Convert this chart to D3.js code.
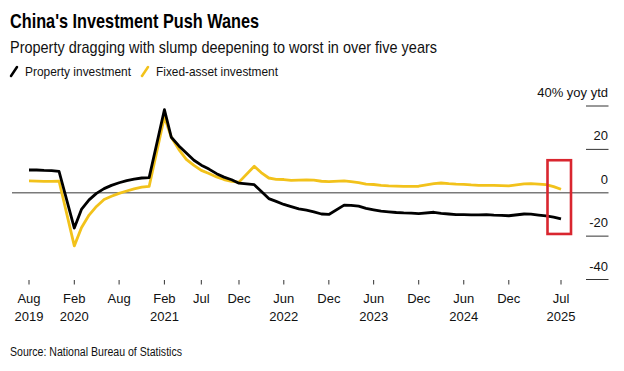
<!DOCTYPE html>
<html>
<head>
  <meta charset="utf-8">
  <script src="https://d3js.org/d3.v7.min.js"></script>
  <style>
    body { margin: 0; background: #fff; }
    svg { display: block; font-family: "Liberation Sans", Arial, sans-serif; }
  </style>
</head>
<body>
  <svg width="624" height="371"></svg>

  <script>
    // Monthly ytd readings (China reports Jan+Feb together, so no January)
    const months = [
      "2019-08", "2019-09", "2019-10", "2019-11", "2019-12",
      "2020-02", "2020-03", "2020-04", "2020-05", "2020-06", "2020-07", "2020-08", "2020-09", "2020-10", "2020-11", "2020-12",
      "2021-02", "2021-03", "2021-04", "2021-05", "2021-06", "2021-07", "2021-08", "2021-09", "2021-10", "2021-11", "2021-12",
      "2022-02", "2022-03", "2022-04", "2022-05", "2022-06", "2022-07", "2022-08", "2022-09", "2022-10", "2022-11", "2022-12",
      "2023-02", "2023-03", "2023-04", "2023-05", "2023-06", "2023-07", "2023-08", "2023-09", "2023-10", "2023-11", "2023-12",
      "2024-02", "2024-03", "2024-04", "2024-05", "2024-06", "2024-07", "2024-08", "2024-09", "2024-10", "2024-11", "2024-12",
      "2025-02", "2025-03", "2025-04", "2025-05", "2025-06", "2025-07"
    ];

    const propertyInvestment = [
      10.5, 10.5, 10.3, 10.2, 9.9,
      -16.3, -7.7, -3.3, -0.3, 1.9, 3.4, 4.6, 5.6, 6.3, 6.8, 7.0,
      38.3, 25.6, 21.6, 18.3, 15.0, 12.7, 10.9, 8.8, 7.2, 6.0, 4.4,
      3.7, 0.7, -2.7, -4.0, -5.4, -6.4, -7.4, -8.0, -8.8, -9.8, -10.0,
      -5.7, -5.8, -6.2, -7.2, -7.9, -8.5, -8.8, -9.1, -9.3, -9.4, -9.6,
      -9.0, -9.5, -9.8, -10.1, -10.1, -10.2, -10.2, -10.1, -10.3, -10.4, -10.6,
      -9.8, -9.9, -10.3, -10.7, -11.2, -12.0
    ];

    const fixedAssetInvestment = [
      5.5, 5.4, 5.2, 5.2, 5.4,
      -24.5, -16.1, -10.3, -6.3, -3.1, -1.6, -0.3, 0.8, 1.8, 2.6, 2.9,
      35.0, 25.6, 19.9, 15.4, 12.6, 10.3, 8.9, 7.3, 6.1, 5.2, 4.9,
      12.2, 9.3, 6.8, 6.2, 6.1, 5.7, 5.8, 5.9, 5.8, 5.3, 5.1,
      5.5, 5.1, 4.7, 4.0, 3.8, 3.4, 3.2, 3.1, 2.9, 2.9, 3.0,
      4.2, 4.5, 4.2, 4.0, 3.9, 3.6, 3.4, 3.4, 3.4, 3.3, 3.2,
      4.1, 4.2, 4.0, 3.7, 2.8, 1.6
    ];

    const tickMonths = ["2019-08", "2020-02", "2020-08", "2021-02", "2021-07", "2021-12",
      "2022-06", "2022-12", "2023-06", "2023-12", "2024-06", "2024-12", "2025-07"];
    const tickMonthLabels = ["Aug", "Feb", "Aug", "Feb", "Jul", "Dec", "Jun", "Dec", "Jun", "Dec", "Jun", "Dec", "Jul"];
    const tickYearLabels = ["2019", "2020", "", "2021", "", "", "2022", "", "2023", "", "2024", "", "2025"];

    const yTicks = [40, 20, 0, -20, -40];
    const yTickLabels = ["40% yoy ytd", "20", "0", "-20", "-40"];

    const seriesNames = ["Property investment", "Fixed-asset investment"];
    const seriesColors = ["#000000", "#f2c21b"];

    const parseMonth = d3.timeParse("%Y-%m");
    const dates = months.map(parseMonth);

    const svg = d3.select("svg");

    const x = d3.scaleTime()
      .domain([parseMonth("2019-08"), parseMonth("2025-07")])
      .range([29, 561]);

    const y = d3.scaleLinear()
      .domain([-40, 40])
      .range([279.5, 106]);

    // titles
    svg.append("text")
      .attr("x", 10).attr("y", 28)
      .attr("font-size", 21).attr("font-weight", "bold")
      .attr("textLength", 249).attr("lengthAdjust", "spacingAndGlyphs")
      .attr("fill", "#000")
      .text("China's Investment Push Wanes");

    svg.append("text")
      .attr("x", 10).attr("y", 53)
      .attr("font-size", 17)
      .attr("textLength", 427).attr("lengthAdjust", "spacingAndGlyphs")
      .attr("fill", "#111")
      .text("Property dragging with slump deepening to worst in over five years");

    // legend
    const legendX = [10, 141];
    const legendW = [106, 122];
    seriesNames.forEach((name, i) => {
      const g = svg.append("g").attr("transform", `translate(${legendX[i]},0)`);
      g.append("line")
        .attr("x1", 1).attr("y1", 76).attr("x2", 7).attr("y2", 67)
        .attr("stroke", seriesColors[i]).attr("stroke-width", 2.5)
        .attr("stroke-linecap", "round");
      g.append("text")
        .attr("x", 15).attr("y", 76)
        .attr("font-size", 13.5)
        .attr("textLength", legendW[i]).attr("lengthAdjust", "spacingAndGlyphs")
        .attr("fill", "#111")
        .text(name);
    });

    // y axis on the right: short ticks with labels above
    const yAxis = svg.append("g");
    yTicks.forEach((v, i) => {
      yAxis.append("line")
        .attr("x1", v === 0 ? 12 : 586).attr("x2", 608.5)
        .attr("y1", y(v)).attr("y2", y(v))
        .attr("stroke", v === 0 ? "#7a7a7a" : "#333")
        .attr("stroke-width", v === 0 ? 1.3 : 1);
      yAxis.append("text")
        .attr("x", 608).attr("y", y(v) - 9)
        .attr("text-anchor", "end")
        .attr("font-size", 13)
        .attr("fill", "#111")
        .text(yTickLabels[i]);
    });

    // x axis
    const xAxis = svg.append("g");
    tickMonths.forEach((m, i) => {
      const px = x(parseMonth(m));
      xAxis.append("line")
        .attr("x1", px).attr("x2", px)
        .attr("y1", 280).attr("y2", 284.5)
        .attr("stroke", "#333").attr("stroke-width", 1);
      xAxis.append("text")
        .attr("x", px).attr("y", 302.5)
        .attr("text-anchor", "middle")
        .attr("font-size", 13)
        .attr("fill", "#111")
        .text(tickMonthLabels[i]);
      if (tickYearLabels[i]) {
        xAxis.append("text")
          .attr("x", px).attr("y", 320.5)
          .attr("text-anchor", "middle")
          .attr("font-size", 13)
          .attr("fill", "#111")
          .text(tickYearLabels[i]);
      }
    });

    // lines: fixed-asset underneath, property on top
    const line = d3.line()
      .x((d, i) => x(dates[i]))
      .y(d => y(d));

    svg.append("path")
      .datum(fixedAssetInvestment)
      .attr("fill", "none")
      .attr("stroke", seriesColors[1])
      .attr("stroke-width", 2.8)
      .attr("stroke-linejoin", "round")
      .attr("d", line);

    svg.append("path")
      .datum(propertyInvestment)
      .attr("fill", "none")
      .attr("stroke", seriesColors[0])
      .attr("stroke-width", 2.8)
      .attr("stroke-linejoin", "round")
      .attr("d", line);

    // red highlight box around the latest reading
    const lastX = x(dates[dates.length - 1]);
    svg.append("rect")
      .attr("x", lastX - 13.5).attr("y", y(15))
      .attr("width", 23.5).attr("height", y(-19) - y(15))
      .attr("fill", "none")
      .attr("stroke", "#d9262f")
      .attr("stroke-width", 2.6);

    // source
    svg.append("text")
      .attr("x", 10).attr("y", 356)
      .attr("font-size", 12)
      .attr("textLength", 172).attr("lengthAdjust", "spacingAndGlyphs")
      .attr("fill", "#111")
      .text("Source: National Bureau of Statistics");
  </script>
</body>
</html>
